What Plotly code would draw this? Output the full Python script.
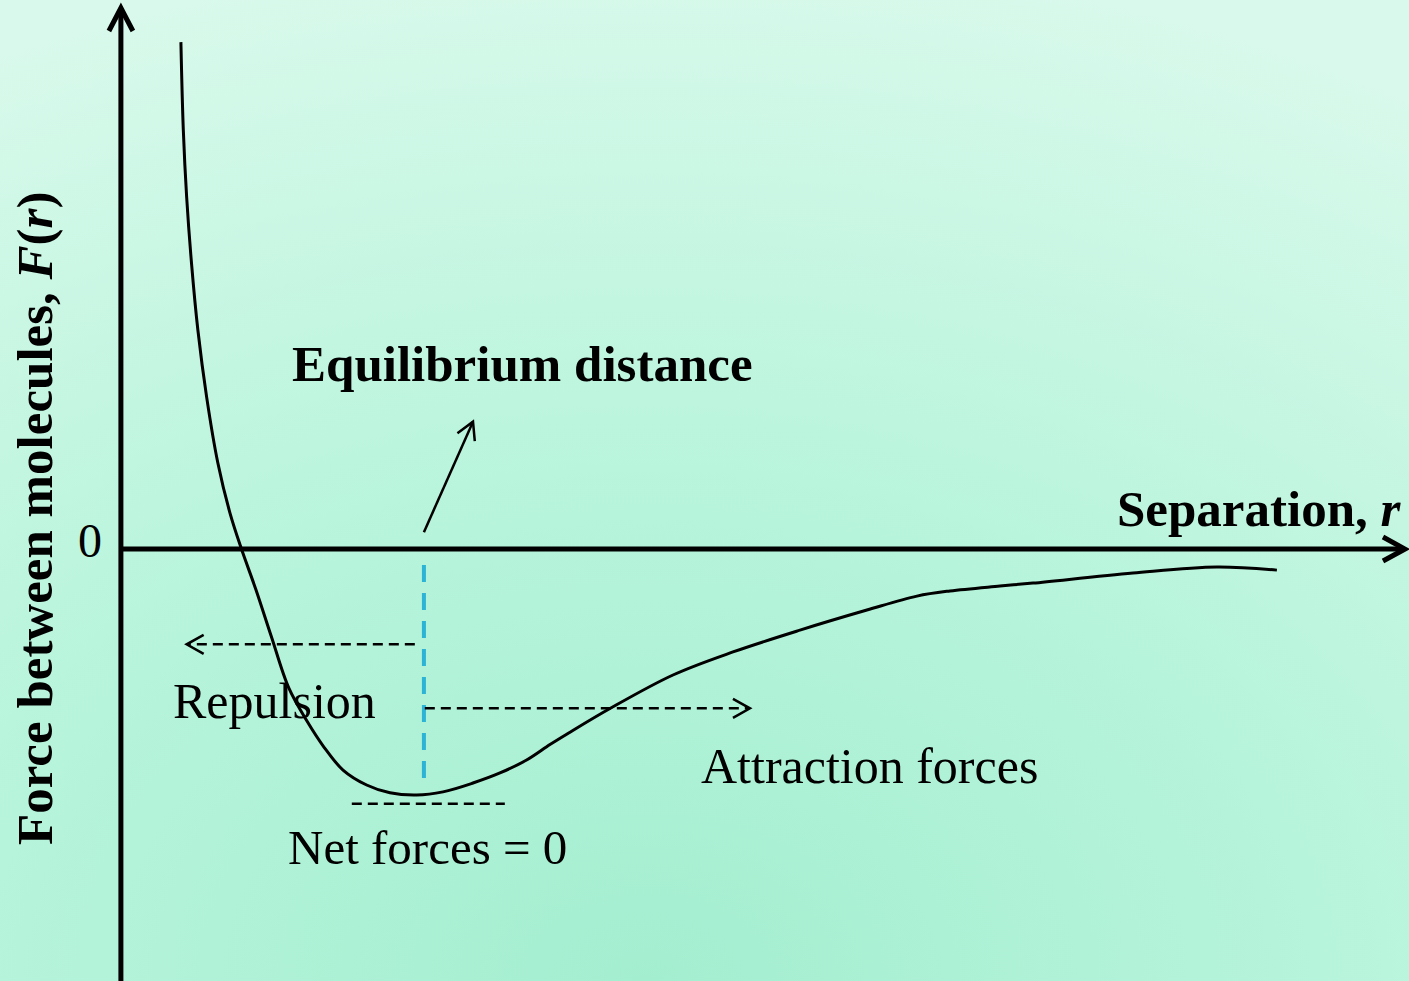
import base64
import plotly.graph_objects as go

# Intermolecular force F(r); r in units of the equilibrium spacing r0,
# F in units of the depth of the attractive well.
r = [0.198, 0.206, 0.217, 0.233, 0.254, 0.283, 0.320, 0.360, 0.398, 0.446,
     0.497, 0.554, 0.614, 0.670, 0.733, 0.811, 0.888, 0.976, 1.063, 1.162,
     1.251, 1.339, 1.416, 1.475, 1.614, 1.822, 2.020, 2.241, 2.462, 2.627,
     2.736, 2.901, 3.010, 3.340, 3.617, 3.815]
F = [2.069, 1.710, 1.437, 1.167, 0.894, 0.620, 0.351, 0.147, 0.000, -0.167,
     -0.359, -0.567, -0.702, -0.808, -0.902, -0.963, -0.995, -1.004, -0.991, -0.955,
     -0.914, -0.861, -0.798, -0.753, -0.651, -0.514, -0.420, -0.331, -0.249, -0.192,
     -0.171, -0.151, -0.139, -0.098, -0.073, -0.086]

zero_tick = ["0"]
r_equilibrium = 1.0

W, H = 1409, 981
X_RANGE = [-0.399, 4.251]
Y_RANGE = [-1.763, 2.241]
SX = (X_RANGE[1] - X_RANGE[0]) / W   # data units per pixel, x
SY = (Y_RANGE[1] - Y_RANGE[0]) / H   # data units per pixel, y

SERIF = "Liberation Serif"
INK = "#000000"


def chevron(tip, frm, back_px, half_px, width):
    """Open arrowhead at `tip`, pointing away from `frm` (both in data units)."""
    vx, vy = (tip[0] - frm[0]) / SX, (tip[1] - frm[1]) / SY
    n = (vx ** 2 + vy ** 2) ** 0.5
    ux, uy = vx / n, vy / n
    px, py = -uy, ux
    a = (tip[0] + (-back_px * ux + half_px * px) * SX,
         tip[1] + (-back_px * uy + half_px * py) * SY)
    b = (tip[0] + (-back_px * ux - half_px * px) * SX,
         tip[1] + (-back_px * uy - half_px * py) * SY)
    return dict(type="path", xref="x", yref="y",
                path=f"M {a[0]},{a[1]} L {tip[0]},{tip[1]} L {b[0]},{b[1]}",
                line=dict(color=INK, width=width))


def seg(x0, y0, x1, y1, width, dash="solid", color=INK):
    return dict(type="line", xref="x", yref="y", x0=x0, y0=y0, x1=x1, y1=y1,
                line=dict(color=color, width=width, dash=dash))


fig = go.Figure()
fig.add_trace(go.Scatter(x=r, y=F, mode="lines",
                         line=dict(color=INK, width=3, shape="spline", smoothing=1.0),
                         hoverinfo="skip", showlegend=False))

shapes = []
# coordinate axes with arrowheads
y_tip = Y_RANGE[1] - 8 * SY
x_tip = X_RANGE[1] - 4 * SX
shapes.append(seg(0, Y_RANGE[0], 0, y_tip - 2 * SY, 5))
shapes.append(chevron((0, y_tip), (0, 0), 23, 12, 5))
shapes.append(seg(0, 0, x_tip - 2 * SX, 0, 5))
shapes.append(chevron((x_tip, 0), (0, 0), 22, 12, 5))

# equilibrium marker
shapes.append(seg(r_equilibrium, -0.065, r_equilibrium, -0.935, 4,
                  dash="17px,11px", color="#2bb4d6"))
eq_from, eq_tip = (r_equilibrium, 0.069), (1.162, 0.520)
shapes.append(seg(eq_from[0], eq_from[1], eq_tip[0], eq_tip[1], 2.5))
shapes.append(chevron(eq_tip, eq_from, 17, 9.5, 2.5))

# repulsion / attraction direction arrows
rep_y, att_y = -0.389, -0.650
rep_tip = (0.217, rep_y)
shapes.append(seg(0.97, rep_y, rep_tip[0] + 2 * SX, rep_y, 2.5, dash="10px,6px"))
shapes.append(chevron(rep_tip, (0.97, rep_y), 17, 9.5, 2.5))
att_tip = (2.076, att_y)
shapes.append(seg(1.003, att_y, att_tip[0] - 2 * SX, att_y, 2.5, dash="10px,6px"))
shapes.append(chevron(att_tip, (1.003, att_y), 17, 9.5, 2.5))

# net-force level under the minimum
shapes.append(seg(0.762, -1.040, 1.267, -1.040, 2.5, dash="10px,6px"))


def label(text, x, y, size, xanchor="left", bold=False):
    t = f"<b>{text}</b>" if bold else text
    return dict(text=t, x=x, y=y, xref="x", yref="y", showarrow=False,
                xanchor=xanchor, yanchor="middle",
                font=dict(family=SERIF, size=size, color=INK))


annotations = [
    label("Equilibrium distance", 0.558, 0.757, 51, bold=True),
    label("Separation, <i>r</i>", 3.281, 0.162, 51, bold=True),
    label(zero_tick[0], -0.102, 0.034, 48, xanchor="center"),
    label("Repulsion", 0.166, -0.621, 50),
    label("Attraction forces", 1.908, -0.887, 50),
    label("Net forces = 0", 0.545, -1.217, 49),
    dict(text="<b>Force between molecules, <i>F</i>(<i>r</i>)</b>",
         x=35 / W, y=1 - 519 / H, xref="paper", yref="paper", showarrow=False,
         textangle=-90, xanchor="center", yanchor="middle",
         font=dict(family=SERIF, size=51, color=INK)),
]

bg_svg = (
    "<svg xmlns='http://www.w3.org/2000/svg' width='1409' height='981' "
    "viewBox='0 0 1409 981' preserveAspectRatio='none'>"
    "<defs><radialGradient id='g' cx='0.46' cy='1.0' r='1.05'>"
    "<stop offset='0' stop-color='#a4eed0'/>"
    "<stop offset='0.45' stop-color='#b6f4db'/>"
    "<stop offset='1' stop-color='#d8f9eb'/>"
    "</radialGradient></defs>"
    "<rect width='1409' height='981' fill='url(#g)'/></svg>"
)
bg_src = "data:image/svg+xml;base64," + base64.b64encode(bg_svg.encode()).decode()

fig.update_layout(
    width=W, height=H,
    margin=dict(l=0, r=0, t=0, b=0),
    paper_bgcolor="#bff6df", plot_bgcolor="rgba(0,0,0,0)",
    xaxis=dict(range=X_RANGE, visible=False, fixedrange=True),
    yaxis=dict(range=Y_RANGE, visible=False, fixedrange=True),
    shapes=shapes, annotations=annotations,
    images=[dict(source=bg_src, xref="paper", yref="paper", x=0, y=1,
                 sizex=1, sizey=1, sizing="stretch", xanchor="left",
                 yanchor="top", layer="below")],
    showlegend=False,
)

fig.write_html("out.html", config={"displayModeBar": False})
